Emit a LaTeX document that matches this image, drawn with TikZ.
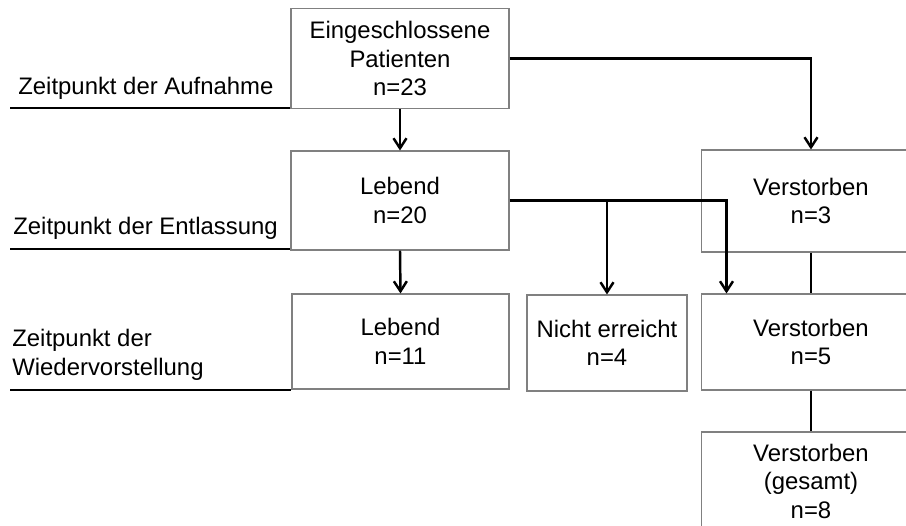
\documentclass[tikz,border=0pt]{standalone}
\usepackage{fontspec}
\setmainfont{Liberation Sans}
\usetikzlibrary{arrows.meta,calc}

\tikzset{
  kasten/.style={draw=gray, line width=0.6pt, align=center, inner sep=0pt},
  pfeil/.style={line width=1.4pt, -{Straight Barb[length=2mm,width=2.6mm]}},
  linie/.style={line width=1.4pt},
  zeitlinie/.style={line width=1.4pt},
  beschriftung/.style={anchor=west, align=left, inner sep=0pt},
}

\begin{document}
\begin{tikzpicture}[x=0.02cm, y=-0.02cm, font=\fontsize{13.6}{16.2}\selectfont]
            \useasboundingbox (0,0) rectangle (906,525);
            \clip (0,0) rectangle (906,525);

            \node[kasten, minimum width=4.36cm, minimum height=2cm] (eing) at (400,58.5) {Eingeschlossene\\Patienten\\n=23};
            \node[kasten, minimum width=4.36cm, minimum height=1.98cm] (leb1) at (400,200.5) {Lebend\\n=20};
            \node[kasten, minimum width=4.34cm, minimum height=1.9cm] (leb2) at (400.5,341.5) {Lebend\\n=11};
            \node[kasten, minimum width=3.2cm, minimum height=1.92cm] (nicht) at (607,343) {Nicht erreicht\\n=4};
            \node[kasten, minimum width=4.4cm, minimum height=2.04cm] (tot1) at (811,201) {Verstorben\\n=3};
            \node[kasten, minimum width=4.4cm, minimum height=1.92cm] (tot2) at (811,342) {Verstorben\\n=5};
            \node[kasten, minimum width=4.4cm, minimum height=1.96cm] (totges) at (811,481) {Verstorben\\(gesamt)\\n=8};

            \node[beschriftung] (auf) at (18,88) {Zeitpunkt der Aufnahme};
            \node[beschriftung] (entl) at (13,228) {Zeitpunkt der Entlassung};
            \node[beschriftung] (wied) at (12,355) {Zeitpunkt der\\Wiedervorstellung};

            \coordinate (auf0) at (10,108);
            \coordinate (entl0) at (10,249);
            \coordinate (wied0) at (10,390);
            \draw[zeitlinie] (auf0) -- (auf0 -| eing.south west);
            \draw[zeitlinie] (entl0) -- (entl0 -| leb1.south west);
            \draw[zeitlinie] (wied0) -- (wied0 -| leb2.south west);

            \draw[pfeil] (eing.south) -- (leb1.north);
            \draw[pfeil] (eing.east) -| (tot1.north);
            \draw[pfeil] (leb1.south) -- (leb2.north);
            \draw[pfeil] (leb1.east) -| ($(tot2.north west)+(26,0)$);
            \draw[pfeil] (leb1.east -| nicht.north) -- (nicht.north);
            \draw[linie] (tot1.south) -- (tot2.north);
            \draw[linie] (tot2.south) -- (totges.north);
        \end{tikzpicture}
\end{document}
